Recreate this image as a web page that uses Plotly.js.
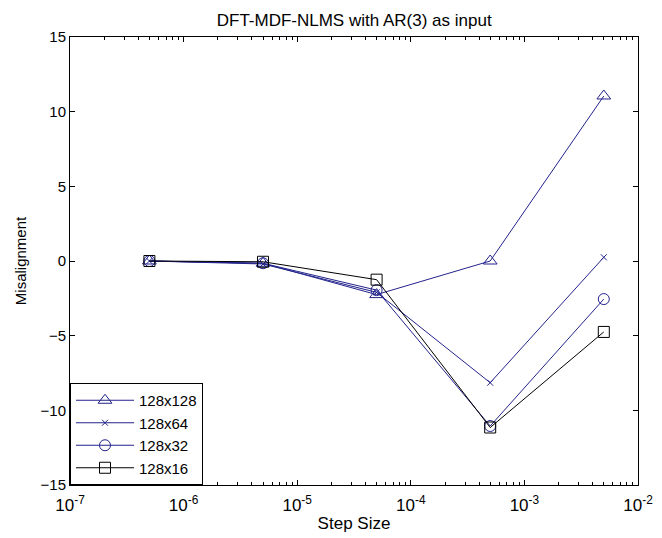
<!DOCTYPE html>
<html>
<head>
<meta charset="utf-8">
<script src="https://cdn.plot.ly/plotly-3.0.1.min.js"></script>
<style>html,body{margin:0;padding:0;background:#fff;}#chart{width:662px;height:538px;}</style>
</head>
<body>
<div id="chart"></div>
<script>
const stepSizes = [5e-7, 5e-6, 5e-5, 5e-4, 5e-3];
const seriesNames = ["128x128", "128x64", "128x32", "128x16"];
const mis128 = [0, -0.15, -2.25, 0, 11.05];
const mis64  = [0, -0.2, -2.1, -8.15, 0.25];
const mis32  = [0, -0.15, -1.95, -11.05, -2.55];
const mis16  = [0, -0.05, -1.25, -11.15, -4.75];
const xTickVals = [1e-7, 1e-6, 1e-5, 1e-4, 1e-3, 1e-2];
const xTickText = ["10<sup>-7</sup>", "10<sup>-6</sup>", "10<sup>-5</sup>", "10<sup>-4</sup>", "10<sup>-3</sup>", "10<sup>-2</sup>"];
const yTickVals = [-15, -10, -5, 0, 5, 10, 15];

const FONT = "Liberation Sans, Arial, sans-serif";
const blue = "#23238c";
const styles = [
  {color: blue, symbol: "triangle-up-open", size: 12},
  {color: blue, symbol: "x-thin-open", size: 6},
  {color: blue, symbol: "circle-open", size: 11},
  {color: "#000000", symbol: "square-open", size: 11}
];
const ys = [mis128, mis64, mis32, mis16];
const data = ys.map((y, i) => ({
  x: stepSizes, y: y, name: seriesNames[i], type: "scatter", mode: "lines+markers",
  line: {color: styles[i].color, width: 1},
  marker: {symbol: styles[i].symbol, size: styles[i].size, color: styles[i].color, line: {color: styles[i].color, width: 1}}
}));

const axisCommon = {
  showline: true, linecolor: "#000", linewidth: 1, mirror: "allticks",
  ticks: "inside", ticklen: 5, tickcolor: "#000", showgrid: false, zeroline: false,
  tickfont: {family: FONT, size: 15, color: "#000"}
};
const layout = {
  width: 662, height: 538,
  margin: {l: 70, r: 24, t: 37, b: 53},
  paper_bgcolor: "#fff", plot_bgcolor: "#fff",
  title: {text: "DFT-MDF-NLMS with AR(3) as input", x: 0.535, xanchor: "center", y: 0.963, yanchor: "middle",
          font: {family: FONT, size: 17, color: "#000"}},
  xaxis: Object.assign({}, axisCommon, {
    type: "log", range: [-7, -2], tickvals: xTickVals, ticktext: xTickText, ticklabelstandoff: 5,
    tickfont: {family: FONT, size: 17, color: "#000"},
    minor: {ticks: "inside", ticklen: 3, tickcolor: "#000", dtick: "D1", showgrid: false},
    title: {text: "Step Size", standoff: 2, font: {family: FONT, size: 17, color: "#000"}}
  }),
  yaxis: Object.assign({}, axisCommon, {
    range: [-15, 15], tickvals: yTickVals,
    title: {text: "Misalignment", standoff: 10, font: {family: FONT, size: 15, color: "#000"}}
  }),
  legend: {x: 0, y: 0, xanchor: "left", yanchor: "bottom", bgcolor: "#fff", bordercolor: "#000", borderwidth: 1,
           itemwidth: 58, font: {family: FONT, size: 15, color: "#000"}},
  showlegend: true
};
Plotly.newPlot("chart", data, layout, {displayModeBar: false, staticPlot: true});
</script>
</body>
</html>
